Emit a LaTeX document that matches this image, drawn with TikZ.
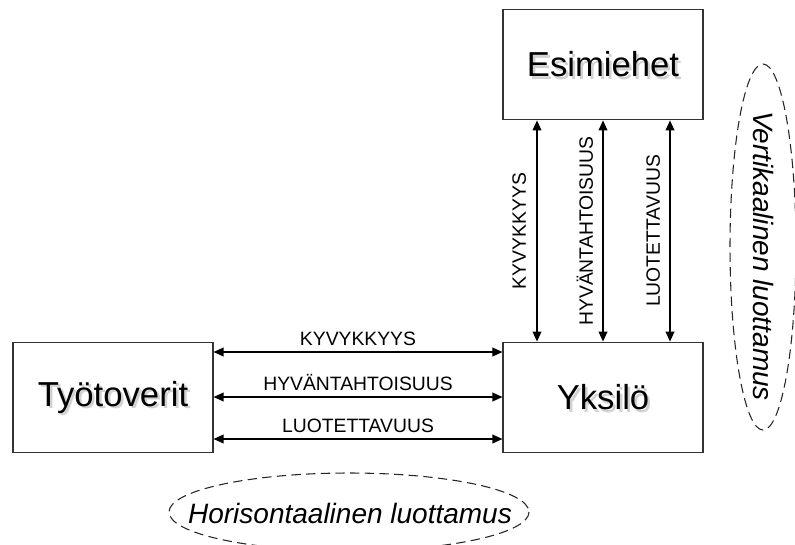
\documentclass[tikz,border=0pt]{standalone}
\usepackage{fontspec}
\setmainfont{Liberation Sans}
\usetikzlibrary{arrows.meta,calc}
\begin{document}
\begin{tikzpicture}[x=0.75pt,y=-0.75pt,
  box/.style={draw=black!80, line width=0.8pt, minimum width=150pt, minimum height=83pt, inner sep=0pt,
    font=\fontsize{26}{26}\selectfont},
  shade/.style={text=black!18, inner sep=0pt, font=\fontsize{26}{26}\selectfont},
  link/.style={{Triangle[length=7.5pt,width=6.5pt]}-{Triangle[length=7.5pt,width=6.5pt]}, line width=1.1pt},
  tag/.style={font=\fontsize{14.5}{14.5}\selectfont, inner sep=0pt, text height=10.4pt, text depth=0pt},
  zone/.style={draw=black!85, dash pattern=on 7pt off 4pt, line width=0.8pt},
  zonetext/.style={font=\fontsize{21}{21}\selectfont\itshape, inner sep=0pt}]
\useasboundingbox (0,0) rectangle (795,544);

% soft text shadows behind the box labels
\node[shade] (esiS) at (605.5,67) {Esimiehet};
\node[shade] (tyoS) at (115.5,400) {Työtoverit};
\node[shade] (yksS) at (605.5,400) {Yksilö};

% the three parties
\node[box] (esi) at (603,64.5) {Esimiehet};
\node[box] (tyo) at (113,397.5) {Työtoverit};
\node[box] (yks) at (603,397.5) {Yksilö};

% horizontal trust links
\draw[link] (tyo.east |- 0,352) -- node[tag, above=4pt] {KYVYKKYYS} (yks.west |- 0,352);
\draw[link] (tyo.east |- 0,397) -- node[tag, above=4pt] {HYVÄNTAHTOISUUS} (yks.west |- 0,397);
\draw[link] (tyo.east |- 0,439) -- node[tag, above=4pt] {LUOTETTAVUUS} (yks.west |- 0,439);

% vertical trust links
\draw[link] (esi.south -| 537,0) -- (yks.north -| 537,0);
\draw[link] (esi.south -| 603,0) -- (yks.north -| 603,0);
\draw[link] (esi.south -| 670,0) -- (yks.north -| 670,0);
\path (esi.south -| 519,0) -- node[tag, rotate=90] {KYVYKKYYS} (yks.north -| 519,0);
\path (esi.south -| 586,0) -- node[tag, rotate=90] {HYVÄNTAHTOISUUS} (yks.north -| 586,0);
\path (esi.south -| 653,0) -- node[tag, rotate=90] {LUOTETTAVUUS} (yks.north -| 653,0);

% dashed zones
\draw[zone] (763,247) ellipse [x radius=33, y radius=183];
\node[zonetext, rotate=-90] (vert) at (763,256) {Vertikaalinen luottamus};
\draw[zone] (349,512) ellipse [x radius=180, y radius=39];
\node[zonetext] (hor) at (350,513) {Horisontaalinen luottamus};
\end{tikzpicture}
\end{document}
